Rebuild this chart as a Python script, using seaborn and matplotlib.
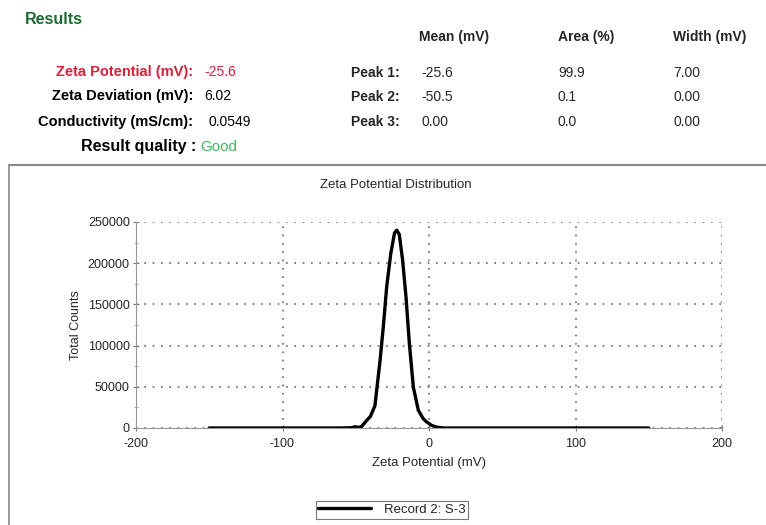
"""
Zeta potential distribution report - recreated with seaborn
"""
import numpy as np
import pandas as pd
import matplotlib
matplotlib.use("Agg")
import matplotlib.pyplot as plt
from matplotlib.lines import Line2D
from matplotlib.ticker import MultipleLocator
import seaborn as sns

# Dữ liệu
zeta_mv = [-150, -100, -60, -53, -50.5, -48, -46, -42.5, -40, -36.9, -33.4,
           -31.2, -28.9, -26.1, -23.5, -22, -20.3, -18.0, -15.7, -13.4, -10.7,
           -7.3, -4, -1.6, 2, 5.3, 10, 50, 100, 150]
total_counts = [0, 0, 0, 300, 1500, 700, 1800, 9300, 14000, 27000, 82200,
                122600, 171100, 211600, 237000, 240000, 235000, 203500, 159000,
                102400, 49800, 21500, 11500, 7300, 3000, 1000, 0, 0, 0, 0]

summary_labels = ["Zeta Potential (mV):", "Zeta Deviation (mV):", "Conductivity (mS/cm):"]
summary_values = ["-25.6", "6.02", "0.0549"]
peak_names = ["Peak 1:", "Peak 2:", "Peak 3:"]
peak_mean = ["-25.6", "-50.5", "0.00"]
peak_area = ["99.9", "0.1", "0.0"]
peak_width = ["7.00", "0.00", "0.00"]
record_name = "Record 2: S-3"

df = pd.DataFrame({"zeta": zeta_mv, "counts": total_counts})

sns.set_theme(style="white")
plt.rcParams["font.family"] = ["Liberation Sans", "DejaVu Sans"]
plt.rcParams["axes.unicode_minus"] = False

W, H = 766, 525
fig = plt.figure(figsize=(W / 100, H / 100), dpi=100)


def fx(px):
    return px / W


def fy(py):
    return 1 - py / H


# Phần tiêu đề kết quả
fig.text(fx(25), fy(19), "Results", color="#1d6b30", fontsize=11.5, fontweight="bold",
         va="center", ha="left")

label_colors = ["#d8203a", "black", "black"]
value_colors = ["#d8203a", "black", "black"]
rows_y = [72, 96, 122]
value_x = [204, 204, 209]
for lab, val, lc, vc, y, vx in zip(summary_labels, summary_values, label_colors,
                                    value_colors, rows_y, value_x):
    fig.text(fx(193), fy(y), lab, color=lc, fontsize=10.5, fontweight="bold",
             ha="right", va="center")
    fig.text(fx(vx), fy(y), val, color=vc, fontsize=10, ha="left", va="center")

fig.text(fx(196), fy(147), "Result quality :", color="black", fontsize=11.5,
         fontweight="bold", ha="right", va="center")
fig.text(fx(200), fy(147), "Good", color="#3cb85c", fontsize=11,
         ha="left", va="center")

# Bảng peak
for txt, x in zip(["Mean (mV)", "Area (%)", "Width (mV)"], [419, 558, 673]):
    fig.text(fx(x), fy(37), txt, fontsize=10, fontweight="bold", ha="left", va="center")
for i, y in enumerate([73, 97, 122]):
    fig.text(fx(351), fy(y), peak_names[i], fontsize=10, fontweight="bold",
             ha="left", va="center")
    fig.text(fx(421), fy(y), peak_mean[i], fontsize=10, ha="left", va="center")
    fig.text(fx(558), fy(y), peak_area[i], fontsize=10, ha="left", va="center")
    fig.text(fx(673), fy(y), peak_width[i], fontsize=10, ha="left", va="center")

# Khung panel
box_color = "#8a8a8a"
fig.add_artist(Line2D([fx(9), fx(9)], [0, fy(165)], color=box_color, lw=1.2,
                      transform=fig.transFigure))
fig.add_artist(Line2D([fx(9), 1.0], [fy(165), fy(165)], color=box_color, lw=1.5,
                      transform=fig.transFigure))

fig.text(fx(396), fy(185), "Zeta Potential Distribution", fontsize=9.5,
         ha="center", va="center")

# Biểu đồ chính
ax = fig.add_axes([fx(136), fy(428), fx(722) - fx(136), fy(222) - fy(428)])
sns.lineplot(data=df, x="zeta", y="counts", ax=ax, color="black", lw=2.4,
             label=record_name)

ax.set_xlim(-200, 200)
ax.set_ylim(0, 250000)
ax.xaxis.set_major_locator(MultipleLocator(100))
ax.yaxis.set_major_locator(MultipleLocator(50000))
ax.yaxis.set_minor_locator(MultipleLocator(25000))
ax.grid(True, which="major", color="#666666", linestyle=(0, (1, 4)), lw=1.2)
for s in ["top", "right"]:
    ax.spines[s].set_visible(False)
for s in ["left", "bottom"]:
    ax.spines[s].set_color("#999999")
    ax.spines[s].set_linewidth(0.8)
ax.tick_params(axis="both", which="major", direction="inout", length=5,
               width=0.8, color="#777777", labelsize=9, bottom=True, left=True)
ax.tick_params(axis="x", pad=5)
ax.tick_params(axis="y", pad=2)
ax.tick_params(axis="y", which="minor", direction="inout", length=3, width=0.6,
               color="#999999", left=True)
ax.set_xlabel("Zeta Potential (mV)", fontsize=9.5, labelpad=5)
ax.set_ylabel("Total Counts", fontsize=9, labelpad=4)

leg = ax.legend(loc="upper center", bbox_to_anchor=(fx(392), fy(501)),
                bbox_transform=fig.transFigure, frameon=True, fancybox=False,
                fontsize=9.5, handlelength=4.0, borderpad=0.2,
                handletextpad=1.0, borderaxespad=0)
leg.get_frame().set_edgecolor("#555555")
leg.get_frame().set_linewidth(0.8)

fig.savefig("out.png", dpi=100)
